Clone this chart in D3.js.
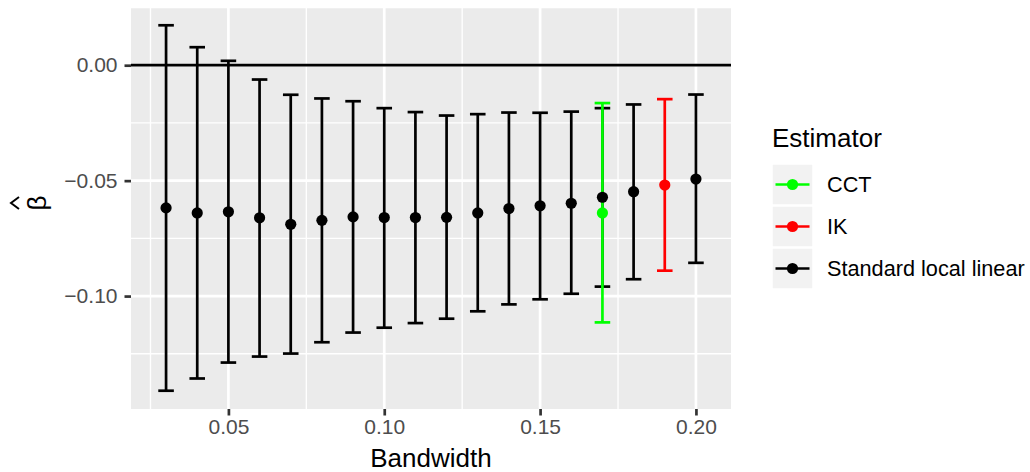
<!DOCTYPE html>
<html>
<head>
<meta charset="utf-8">
<script src="https://cdn.jsdelivr.net/npm/d3@7"></script>
<style>
  html, body { margin: 0; padding: 0; background: #fff; }
  svg { display: block; font-family: "Liberation Sans", Arial, Helvetica, sans-serif; }
</style>
</head>
<body>
<svg id="chart" width="1030" height="472"></svg>
<script>
// Standard local linear estimates across bandwidths
const llBandwidth = [0.03, 0.04, 0.05, 0.06, 0.07, 0.08, 0.09, 0.10, 0.11, 0.12, 0.13, 0.14, 0.15, 0.16, 0.17, 0.18, 0.20];
const llEstimate  = [-0.0618, -0.0640, -0.0635, -0.0661, -0.0689, -0.0672, -0.0657, -0.0660, -0.0660, -0.0659, -0.0640, -0.0621, -0.0609, -0.0598, -0.0572, -0.0548, -0.0493];
const llUpper     = [0.0173, 0.0078, 0.0019, -0.0062, -0.0128, -0.0144, -0.0156, -0.0186, -0.0203, -0.0218, -0.0212, -0.0205, -0.0206, -0.0201, -0.0186, -0.0170, -0.0127];
const llLower     = [-0.1410, -0.1357, -0.1288, -0.1262, -0.1249, -0.1200, -0.1158, -0.1137, -0.1117, -0.1098, -0.1066, -0.1036, -0.1014, -0.0990, -0.0959, -0.0927, -0.0856];

// Data-driven bandwidth selectors
const cctBandwidth = [0.17];
const cctEstimate  = [-0.0640];
const cctUpper     = [-0.0164];
const cctLower     = [-0.1114];

const ikBandwidth = [0.19];
const ikEstimate  = [-0.0519];
const ikUpper     = [-0.0147];
const ikLower     = [-0.0890];

const estimators = ["CCT", "IK", "Standard local linear"];
const estimatorColors = ["#00FF00", "#FF0000", "#000000"];

const xTicks = [0.05, 0.10, 0.15, 0.20];
const xMinor = [0.025, 0.075, 0.125, 0.175];
const yTicks = [0.00, -0.05, -0.10];
const yMinor = [0.025, -0.025, -0.075, -0.125];

const errWidth = 0.005;

function rows(name, bw, est, up, lo) {
  return bw.map((b, i) => ({ estimator: name, bw: b, est: est[i], upper: up[i], lower: lo[i] }));
}
const data = [
  ...rows("Standard local linear", llBandwidth, llEstimate, llUpper, llLower),
  ...rows("CCT", cctBandwidth, cctEstimate, cctUpper, cctLower),
  ...rows("IK", ikBandwidth, ikEstimate, ikUpper, ikLower)
];

const panel = { left: 131, right: 731, top: 7, bottom: 409 };

// Continuous scales with 5% expansion on each side
function expand(lo, hi) { const d = (hi - lo) * 0.05; return [lo - d, hi + d]; }
const xDomain = expand(d3.min(data, d => d.bw) - errWidth / 2, d3.max(data, d => d.bw) + errWidth / 2);
const yDomain = expand(Math.min(d3.min(data, d => d.lower), 0), Math.max(d3.max(data, d => d.upper), 0));

const x = d3.scaleLinear().domain(xDomain).range([panel.left, panel.right]);
const y = d3.scaleLinear().domain(yDomain).range([panel.bottom, panel.top]);
const color = d3.scaleOrdinal().domain(estimators).range(estimatorColors);

const svg = d3.select("#chart");

// Panel background
svg.append("rect")
  .attr("x", panel.left).attr("y", panel.top)
  .attr("width", panel.right - panel.left).attr("height", panel.bottom - panel.top)
  .attr("fill", "#EBEBEB");

const grid = svg.append("g");
const inY = v => v >= yDomain[0] && v <= yDomain[1];
// Minor grid
grid.selectAll(".xminor").data(xMinor).join("line")
  .attr("x1", d => x(d)).attr("x2", d => x(d))
  .attr("y1", panel.top).attr("y2", panel.bottom)
  .attr("stroke", "#fff").attr("stroke-width", 1.35);
grid.selectAll(".yminor").data(yMinor.filter(inY)).join("line")
  .attr("y1", d => y(d)).attr("y2", d => y(d))
  .attr("x1", panel.left).attr("x2", panel.right)
  .attr("stroke", "#fff").attr("stroke-width", 1.35);
// Major grid
grid.selectAll(".xmajor").data(xTicks).join("line")
  .attr("x1", d => x(d)).attr("x2", d => x(d))
  .attr("y1", panel.top).attr("y2", panel.bottom)
  .attr("stroke", "#fff").attr("stroke-width", 2.7);
grid.selectAll(".ymajor").data(yTicks).join("line")
  .attr("y1", d => y(d)).attr("y2", d => y(d))
  .attr("x1", panel.left).attr("x2", panel.right)
  .attr("stroke", "#fff").attr("stroke-width", 2.7);

// Reference line at zero
svg.append("line")
  .attr("x1", panel.left).attr("x2", panel.right)
  .attr("y1", y(0)).attr("y2", y(0))
  .attr("stroke", "#000").attr("stroke-width", 2.7);

// Error bars: standard series first, selectors on top
const order = ["Standard local linear", "CCT", "IK"];
const sorted = order.flatMap(k => data.filter(d => d.estimator === k));

const bars = svg.append("g").selectAll("g").data(sorted).join("g")
  .attr("stroke", d => color(d.estimator))
  .attr("stroke-width", 2.7)
  .attr("fill", "none");
bars.append("line")
  .attr("x1", d => x(d.bw)).attr("x2", d => x(d.bw))
  .attr("y1", d => y(d.upper)).attr("y2", d => y(d.lower));
bars.append("line")
  .attr("x1", d => x(d.bw - errWidth / 2)).attr("x2", d => x(d.bw + errWidth / 2))
  .attr("y1", d => y(d.upper)).attr("y2", d => y(d.upper));
bars.append("line")
  .attr("x1", d => x(d.bw - errWidth / 2)).attr("x2", d => x(d.bw + errWidth / 2))
  .attr("y1", d => y(d.lower)).attr("y2", d => y(d.lower));

// Point estimates
svg.append("g").selectAll("circle").data(sorted).join("circle")
  .attr("cx", d => x(d.bw)).attr("cy", d => y(d.est))
  .attr("r", 5.6)
  .attr("fill", d => color(d.estimator));

// Axes
const xAxis = d3.axisBottom(x).tickValues(xTicks).tickFormat(d3.format(".2f")).tickSize(6.5).tickPadding(4);
const gx = svg.append("g").attr("transform", `translate(0,${panel.bottom})`).call(xAxis);
gx.select(".domain").remove();
gx.selectAll(".tick line").attr("stroke", "#333333").attr("stroke-width", 2.7);
gx.selectAll(".tick text").attr("fill", "#4D4D4D").attr("font-size", 21)
  .attr("font-family", "Liberation Sans, Arial, sans-serif");

const yFmt = v => (v < 0 ? "\u2212" : "") + Math.abs(v).toFixed(2);
const yAxis = d3.axisLeft(y).tickValues(yTicks).tickFormat(yFmt).tickSize(6.5).tickPadding(7);
const gy = svg.append("g").attr("transform", `translate(${panel.left},0)`).call(yAxis);
gy.select(".domain").remove();
gy.selectAll(".tick line").attr("stroke", "#333333").attr("stroke-width", 2.7);
gy.selectAll(".tick text").attr("fill", "#4D4D4D").attr("font-size", 21)
  .attr("font-family", "Liberation Sans, Arial, sans-serif");

// Axis titles
svg.append("text")
  .attr("x", (panel.left + panel.right) / 2).attr("y", 467)
  .attr("text-anchor", "middle").attr("font-size", 26).attr("fill", "#000")
  .text("Bandwidth");

const yTitle = svg.append("g")
  .attr("transform", `translate(37,${(panel.top + panel.bottom) / 2 - 5}) rotate(-90)`);
yTitle.append("text")
  .attr("x", 0).attr("y", 9)
  .attr("text-anchor", "middle").attr("font-size", 26).attr("fill", "#000")
  .text("\u03B2");
yTitle.append("path")
  .attr("d", "M-6,-18 L0,-26 L6,-18")
  .attr("fill", "none").attr("stroke", "#000").attr("stroke-width", 2);

// Legend
const legend = svg.append("g").attr("transform", "translate(772,0)");
legend.append("text")
  .attr("x", 0).attr("y", 146.5)
  .attr("font-size", 26).attr("fill", "#000")
  .text("Estimator");

const keySize = 41, keyPitch = 42, keyTop = 164;
const keys = legend.selectAll(".key").data(estimators).join("g")
  .attr("transform", (d, i) => `translate(0,${keyTop + i * keyPitch})`);
keys.append("rect")
  .attr("width", keySize).attr("height", keySize)
  .attr("fill", "#F2F2F2").attr("stroke", "#fff").attr("stroke-width", 1.5);
keys.append("line")
  .attr("x1", 3.5).attr("x2", keySize - 3.5)
  .attr("y1", keySize / 2).attr("y2", keySize / 2)
  .attr("stroke", d => color(d)).attr("stroke-width", 2.7);
keys.append("circle")
  .attr("cx", keySize / 2).attr("cy", keySize / 2).attr("r", 5.6)
  .attr("fill", d => color(d));
keys.append("text")
  .attr("x", 55).attr("y", keySize / 2).attr("dy", "0.36em")
  .attr("font-size", 21.7).attr("fill", "#000")
  .text(d => d);
</script>
</body>
</html>
